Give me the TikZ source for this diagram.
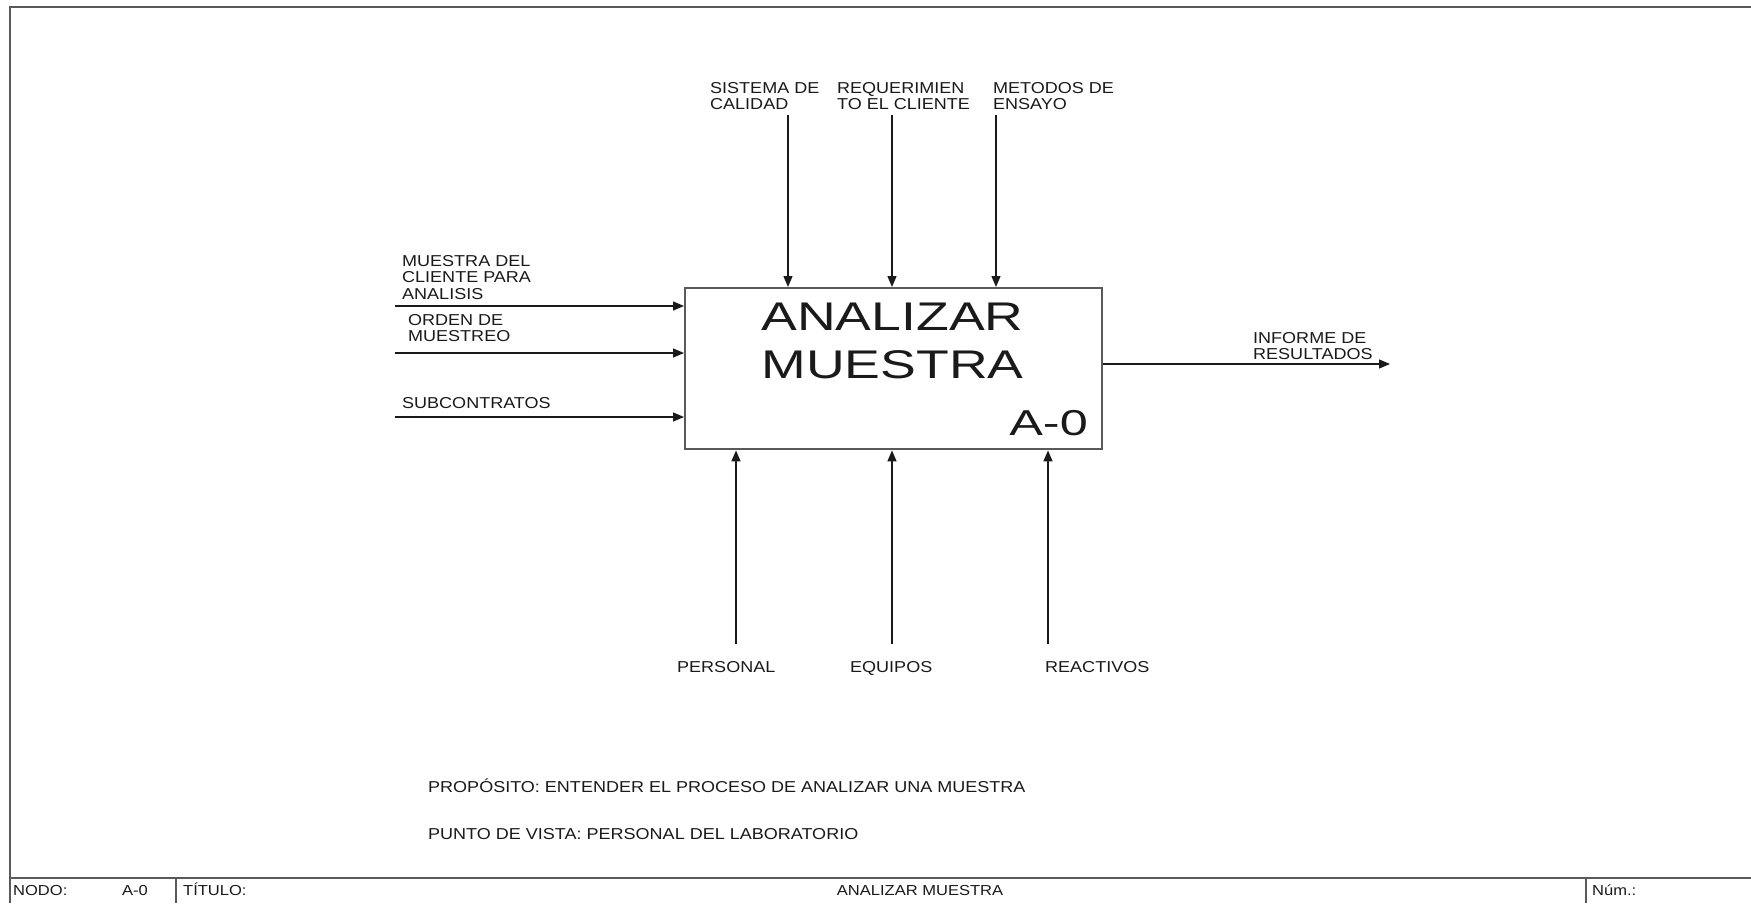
\documentclass[tikz,border=0pt]{standalone}
\usepackage{graphicx}
\usepackage{fontspec}
\setmainfont{Liberation Sans}
\usetikzlibrary{arrows.meta}
% horizontally widened lettering used throughout the sheet
\newcommand\wl[1]{\scalebox{1.14}[1]{#1}}
\newcommand\wt[1]{\scalebox{1.34}[1]{#1}}
\newcommand\wa[1]{\scalebox{1.40}[1]{#1}}
\definecolor{frameline}{HTML}{5A5A5A}
\definecolor{ink}{HTML}{1A1A1A}
\tikzset{
  label/.style={inner sep=0pt, text=ink, align=left,
    font=\fontsize{15.8}{16.5}\selectfont},
  sheet/.style={inner sep=0pt, text=ink, font=\fontsize{14.5}{16}\selectfont},
  flow/.style={draw=ink, line width=1.4pt, -{Triangle[length=11pt,width=9pt]}},
  framed/.style={draw=frameline, line width=2pt},
  activity/.style={draw=frameline, line width=2.4pt, fill=white,
    minimum width=417pt, minimum height=161pt, inner sep=0pt}
}
\begin{document}
\begin{tikzpicture}[x=1pt,y=-1pt]
\useasboundingbox (0,0) rectangle (1751,903);
\fill[white] (0,0) rectangle (1751,903);

% sheet frame and title strip
\draw[framed] (1751,6.5) -- (9.5,6.5) -- (9.5,903);
\draw[framed] (9.5,877.5) -- (1751,877.5);
\draw[framed] (176,877.5) -- (176,903);
\draw[framed] (1586,877.5) -- (1586,903);
\node[sheet, anchor=base west] (nodo) at (13,895) {\wl{NODO:}};
\node[sheet, anchor=base west] (nodoval) at (122,895) {\wl{A-0}};
\node[sheet, anchor=base west] (titulo) at (183,895) {\wl{TÍTULO:}};
\node[sheet, anchor=base] (tituloval) at (920,895) {\wl{ANALIZAR MUESTRA}};
\node[sheet, anchor=base west] (num) at (1592,895) {\wl{Núm.:}};

% activity box
\node[activity, anchor=north west] (proc) at (684,287) {};
\node[inner sep=0pt, text=ink, font=\fontsize{40}{48}\selectfont, anchor=base]
  (t1) at (892.5,330) {\wt{ANALIZAR}};
\node[inner sep=0pt, text=ink, font=\fontsize{40}{48}\selectfont, anchor=base]
  (t2) at (892.5,378) {\wt{MUESTRA}};
\node[inner sep=0pt, text=ink, font=\fontsize{36}{40}\selectfont, anchor=base east]
  (code) at (1088,435) {\wa{A-0}};

% inputs
\coordinate (in1) at (395,306);
\coordinate (in2) at (395,353);
\coordinate (in3) at (395,417);
\draw[flow] (in1) -- (in1 -| proc.west);
\draw[flow] (in2) -- (in2 -| proc.west);
\draw[flow] (in3) -- (in3 -| proc.west);
\node[label, anchor=north west] (lin1) at (402,255)
  {\wl{MUESTRA DEL}\\\wl{CLIENTE PARA}\\\wl{ANALISIS}};
\node[label, anchor=north west] (lin2) at (408,314)
  {\wl{ORDEN DE}\\\wl{MUESTREO}};
\node[label, anchor=base west] (lin3) at (402,408) {\wl{SUBCONTRATOS}};

% controls
\coordinate (c1) at (788,115);
\coordinate (c2) at (892,115);
\coordinate (c3) at (996,115);
\draw[flow] (c1) -- (c1 |- proc.north);
\draw[flow] (c2) -- (c2 |- proc.north);
\draw[flow] (c3) -- (c3 |- proc.north);
\node[label, anchor=north west] (lc1) at (710,82) {\wl{SISTEMA DE}\\\wl{CALIDAD}};
\node[label, anchor=north west] (lc2) at (837,82) {\wl{REQUERIMIEN}\\\wl{TO EL CLIENTE}};
\node[label, anchor=north west] (lc3) at (993,82) {\wl{METODOS DE}\\\wl{ENSAYO}};

% output
\coordinate (out) at (1390,364);
\draw[flow] (proc.east |- out) -- (out);
\node[label, anchor=north west] (lout) at (1253,332) {\wl{INFORME DE}\\\wl{RESULTADOS}};

% mechanisms
\coordinate (m1) at (736,644);
\coordinate (m2) at (892,644);
\coordinate (m3) at (1048,644);
\draw[flow] (m1) -- (m1 |- proc.south);
\draw[flow] (m2) -- (m2 |- proc.south);
\draw[flow] (m3) -- (m3 |- proc.south);
\node[label, anchor=base west] (lm1) at (677,672) {\wl{PERSONAL}};
\node[label, anchor=base west] (lm2) at (850,672) {\wl{EQUIPOS}};
\node[label, anchor=base west] (lm3) at (1045,672) {\wl{REACTIVOS}};

% purpose and viewpoint
\node[label, anchor=base west] (purpose) at (428,792)
  {\wl{PROPÓSITO: ENTENDER EL PROCESO DE ANALIZAR UNA MUESTRA}};
\node[label, anchor=base west] (viewpoint) at (428,839)
  {\wl{PUNTO DE VISTA: PERSONAL DEL LABORATORIO}};
\end{tikzpicture}
\end{document}
